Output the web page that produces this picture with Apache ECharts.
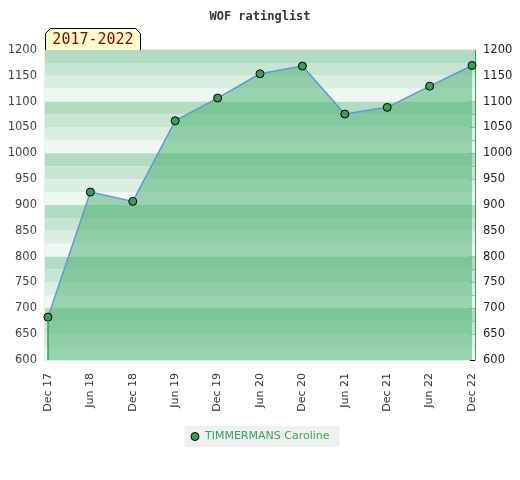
<!DOCTYPE html>
<html>
<head>
<meta charset="utf-8">
<script src="https://cdn.jsdelivr.net/npm/echarts@6/dist/echarts.min.js"></script>
<style>html,body{margin:0;padding:0;background:#fff}#c{width:520px;height:480px}</style>
</head>
<body>
<div id="c"></div>
<script>
var categories = ['Dec 17','Jun 18','Dec 18','Jun 19','Dec 19','Jun 20','Dec 20','Jun 21','Dec 21','Jun 22','Dec 22'];
var ratings = [683, 925, 907, 1063, 1107, 1154, 1169, 1076, 1089, 1130, 1170];
var seriesName = 'TIMMERMANS Caroline';
var periodLabel = '2017-2022';
var yMin = 600, yMax = 1200, yStep = 50;

var bandColors = ['#b2dcc2', '#c7e5d3', '#dbeee3', '#eef7f2'];
var bands = [];
for (var v = yMax, i = 0; v > yMin; v -= 25, i++) {
  bands.push([{ yAxis: v, itemStyle: { color: bandColors[i % 4], opacity: 1 } }, { yAxis: v - 25 }]);
}
var points = ratings.map(function (r, k) { return [k, r]; });
var last = ratings.length - 1;
function plain(v) { return String(v); }

var chart = echarts.init(document.getElementById('c'), null, { renderer: 'canvas' });
chart.setOption({
  animation: false,
  title: {
    text: 'WOF ratinglist', left: 'center', top: 6,
    textStyle: { fontFamily: 'DejaVu Sans Mono', fontSize: 12, fontWeight: 'bold', color: '#333' }
  },
  legend: {
    bottom: 33, left: 'center', backgroundColor: '#f0f0f0', padding: [5, 10, 5, 6],
    itemWidth: 10, itemHeight: 8, itemGap: 6,
    textStyle: { color: '#3aa655', fontSize: 11, fontFamily: 'DejaVu Sans' },
    data: [{ name: seriesName, icon: 'circle', itemStyle: { color: '#3a9d5d', borderColor: '#000', borderWidth: 1 } }]
  },
  grid: { left: 45, right: 45, top: 50, bottom: 120, show: true, borderColor: '#d6d6d6', borderWidth: 1, backgroundColor: 'transparent' },
  xAxis: {
    type: 'value', min: -0.07, max: last + 0.07,
    axisLine: { show: false }, splitLine: { show: false },
    axisTick: { show: false },
    axisLabel: {
      customValues: categories.map(function (c, k) { return k; }),
      formatter: function (val) { return categories[Math.round(val)]; },
      rotate: 90, margin: 13, fontSize: 11, color: '#333', fontFamily: 'DejaVu Sans'
    }
  },
  yAxis: [
    {
      type: 'value', min: yMin, max: yMax, interval: yStep, position: 'left',
      axisLine: { show: false }, axisTick: { show: false }, splitLine: { show: false },
      axisLabel: { fontSize: 11.5, color: '#444', margin: 8, fontFamily: 'DejaVu Sans', formatter: plain }
    },
    {
      type: 'value', min: yMin, max: yMax, interval: yStep, position: 'right',
      axisLine: { show: true, lineStyle: { color: '#3a9d5d', width: 1 } },
      axisTick: { show: true, inside: true, length: 5, lineStyle: { color: '#000' } },
      minorTick: { show: true, splitNumber: 10, length: 3, lineStyle: { color: '#000' } },
      splitLine: { show: false },
      axisLabel: { fontSize: 11.5, color: '#222', margin: 8, fontFamily: 'DejaVu Sans', formatter: plain }
    }
  ],
  series: [
    {
      type: 'line', name: 'bands', data: [], z: 1, silent: true,
      markArea: { silent: true, data: bands }
    },
    {
      type: 'line', name: seriesName, data: points, z: 3,
      symbol: 'circle', symbolSize: 8,
      itemStyle: { color: '#3a9d5d', borderColor: '#000', borderWidth: 1 },
      lineStyle: { color: '#5b9bd5', width: 1.5 },
      areaStyle: { color: 'rgb(68,173,106)', opacity: 0.5, origin: 'start' },
      markLine: {
        silent: true, symbol: 'none', label: { show: false },
        lineStyle: { color: '#2aa24e', width: 1.5, type: 'solid' },
        data: [
          [{ coord: [0, yMin] }, { coord: [0, ratings[0]] }]
        ]
      }
    }
  ],
  graphic: [
    {
      type: 'group', left: 45, top: 28,
      children: [
        {
          type: 'polygon',
          shape: { points: [[0, 22], [0, 5], [5, 0], [90, 0], [95, 5], [95, 22]] },
          style: { fill: '#ffffcc', stroke: '#000', lineWidth: 1 }
        },
        {
          type: 'text', x: 47.5, y: 12,
          style: { text: periodLabel, fill: '#8b0000', font: '15px "DejaVu Sans Mono"', align: 'center', verticalAlign: 'middle' }
        }
      ]
    }
  ]
});
</script>
</body>
</html>
